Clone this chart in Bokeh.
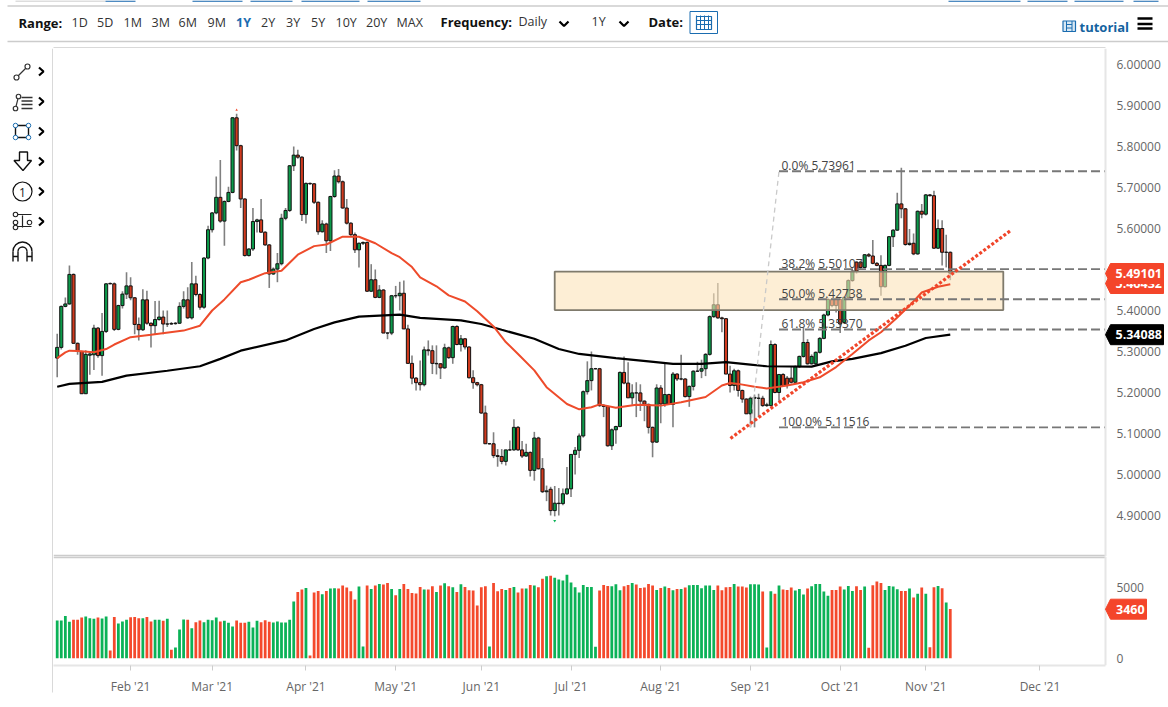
from bokeh.embed import file_html
from bokeh.resources import INLINE
from bokeh.plotting import figure
from bokeh.layouts import column, row
from bokeh.core.properties import value
from bokeh.models import (Range1d, LinearAxis, FixedTicker, NumeralTickFormatter, Label, ColumnDataSource)

# ---------- data (trading-day index 0..219) ----------
opens = [
5.284,5.310,5.410,5.416,5.488,5.320,5.300,5.197,5.291,5.292,
5.357,5.290,5.349,5.465,5.465,5.354,5.412,5.440,5.460,5.431,
5.366,5.353,5.426,5.369,5.363,5.378,5.384,5.367,5.367,5.368,
5.369,5.410,5.426,5.382,5.465,5.439,5.408,5.528,5.597,5.638,
5.676,5.618,5.666,5.688,5.870,5.802,5.672,5.534,5.550,5.617,
5.621,5.591,5.560,5.489,5.501,5.514,5.625,5.644,5.753,5.779,
5.774,5.634,5.710,5.709,5.664,5.592,5.611,5.570,5.678,5.728,
5.714,5.650,5.613,5.585,5.548,5.564,5.566,5.447,5.475,5.432,
5.450,5.345,5.345,5.436,5.436,5.442,5.355,5.271,5.235,5.224,
5.219,5.304,5.302,5.271,5.270,5.260,5.309,5.285,5.361,5.317,
5.331,5.311,5.236,5.224,5.219,5.150,5.075,5.075,5.046,5.044,
5.032,5.060,5.060,5.115,5.060,5.045,5.054,5.010,5.089,5.014,
4.960,4.964,4.912,4.930,4.929,4.953,4.965,5.049,5.059,5.094,
5.202,5.229,5.258,5.258,5.168,5.166,5.070,5.109,5.117,5.249,
5.223,5.187,5.199,5.199,5.179,5.171,5.115,5.079,5.211,5.172,
5.195,5.171,5.245,5.233,5.233,5.190,5.215,5.252,5.252,5.258,
5.293,5.385,5.414,5.382,5.380,5.245,5.217,5.253,5.205,5.184,
5.148,5.186,5.186,5.186,5.168,5.168,5.317,5.200,5.244,5.217,
5.235,5.225,5.263,5.288,5.322,5.288,5.270,5.298,5.332,5.389,
5.427,5.412,5.427,5.371,5.432,5.473,5.496,5.518,5.505,5.536,
5.533,5.515,5.510,5.458,5.510,5.580,5.596,5.660,5.648,5.561,
5.564,5.538,5.642,5.635,5.682,5.680,5.552,5.600,5.542,5.542]
highs = [
5.343,5.412,5.432,5.510,5.490,5.322,5.302,5.303,5.298,5.365,
5.360,5.394,5.467,5.468,5.468,5.414,5.447,5.493,5.481,5.433,
5.383,5.452,5.448,5.371,5.423,5.424,5.400,5.400,5.372,5.372,
5.420,5.447,5.457,5.518,5.485,5.442,5.530,5.607,5.640,5.727,
5.767,5.668,5.702,5.872,5.880,5.804,5.674,5.552,5.650,5.624,
5.672,5.593,5.562,5.505,5.540,5.636,5.650,5.755,5.800,5.792,
5.776,5.712,5.712,5.711,5.666,5.620,5.614,5.680,5.742,5.745,
5.717,5.672,5.615,5.590,5.566,5.568,5.568,5.513,5.500,5.462,
5.452,5.347,5.438,5.460,5.470,5.473,5.365,5.290,5.238,5.278,
5.312,5.327,5.315,5.315,5.272,5.319,5.312,5.363,5.364,5.340,
5.333,5.313,5.254,5.226,5.221,5.168,5.077,5.103,5.062,5.062,
5.060,5.083,5.135,5.118,5.082,5.075,5.056,5.104,5.092,5.040,
4.973,4.970,4.972,4.967,4.966,5.018,5.049,5.067,5.100,5.205,
5.276,5.300,5.260,5.260,5.172,5.168,5.112,5.119,5.251,5.288,
5.274,5.220,5.225,5.220,5.181,5.173,5.117,5.220,5.218,5.270,
5.197,5.250,5.247,5.292,5.235,5.217,5.254,5.275,5.280,5.296,
5.388,5.442,5.467,5.385,5.382,5.265,5.258,5.256,5.207,5.186,
5.190,5.195,5.197,5.192,5.175,5.327,5.320,5.244,5.247,5.240,
5.262,5.266,5.290,5.358,5.330,5.293,5.300,5.335,5.392,5.430,
5.430,5.430,5.432,5.435,5.476,5.498,5.520,5.520,5.538,5.540,
5.572,5.518,5.535,5.512,5.582,5.598,5.687,5.748,5.650,5.599,
5.588,5.644,5.660,5.684,5.684,5.692,5.622,5.620,5.585,5.544]
lows = [
5.237,5.305,5.408,5.414,5.318,5.292,5.197,5.197,5.243,5.255,
5.285,5.241,5.345,5.464,5.350,5.352,5.405,5.428,5.425,5.342,
5.327,5.350,5.365,5.310,5.342,5.375,5.342,5.360,5.365,5.365,
5.367,5.405,5.380,5.378,5.435,5.402,5.404,5.525,5.590,5.635,
5.614,5.558,5.664,5.686,5.790,5.650,5.532,5.532,5.545,5.590,
5.590,5.558,5.455,5.487,5.469,5.510,5.620,5.640,5.740,5.770,
5.618,5.612,5.707,5.660,5.585,5.590,5.540,5.545,5.675,5.710,
5.648,5.610,5.580,5.540,5.505,5.560,5.445,5.445,5.430,5.430,
5.345,5.330,5.340,5.430,5.400,5.355,5.271,5.220,5.205,5.205,
5.215,5.290,5.245,5.244,5.233,5.258,5.282,5.270,5.315,5.300,
5.305,5.234,5.209,5.215,5.148,5.075,5.073,5.040,5.019,5.025,
5.022,5.058,5.058,5.058,5.040,5.043,4.995,4.985,5.012,4.955,
4.935,4.900,4.898,4.900,4.925,4.950,4.945,5.000,5.040,5.090,
5.195,5.205,5.256,5.165,5.140,5.068,5.060,5.075,5.115,5.220,
5.187,5.170,5.140,5.155,5.130,5.100,5.042,5.077,5.125,5.165,
5.170,5.115,5.228,5.230,5.188,5.165,5.205,5.250,5.235,5.240,
5.290,5.382,5.380,5.347,5.245,5.200,5.205,5.190,5.175,5.148,
5.115,5.115,5.140,5.165,5.165,5.166,5.198,5.180,5.215,5.210,
5.222,5.222,5.260,5.285,5.268,5.268,5.265,5.295,5.330,5.386,
5.408,5.395,5.345,5.368,5.430,5.470,5.490,5.500,5.503,5.530,
5.513,5.508,5.436,5.456,5.508,5.555,5.594,5.625,5.558,5.558,
5.535,5.536,5.625,5.632,5.678,5.550,5.550,5.510,5.505,5.474]
closes = [
5.310,5.410,5.416,5.488,5.320,5.300,5.197,5.293,5.294,5.357,
5.290,5.349,5.465,5.466,5.354,5.412,5.440,5.460,5.431,5.366,
5.353,5.426,5.369,5.363,5.378,5.384,5.367,5.367,5.368,5.369,
5.410,5.426,5.382,5.465,5.439,5.408,5.528,5.597,5.638,5.676,
5.618,5.666,5.688,5.870,5.802,5.672,5.534,5.550,5.617,5.621,
5.591,5.560,5.489,5.501,5.514,5.625,5.644,5.753,5.779,5.774,
5.634,5.710,5.709,5.664,5.592,5.611,5.570,5.678,5.728,5.714,
5.650,5.613,5.585,5.548,5.564,5.566,5.447,5.475,5.432,5.450,
5.345,5.345,5.436,5.436,5.442,5.355,5.271,5.235,5.224,5.219,
5.304,5.302,5.271,5.270,5.260,5.309,5.285,5.361,5.317,5.331,
5.311,5.236,5.224,5.219,5.150,5.075,5.075,5.046,5.044,5.032,
5.060,5.060,5.115,5.060,5.045,5.054,5.010,5.089,5.014,4.958,
4.958,4.912,4.930,4.929,4.953,4.965,5.049,5.059,5.094,5.202,
5.229,5.258,5.258,5.168,5.166,5.070,5.109,5.117,5.249,5.223,
5.187,5.199,5.199,5.179,5.171,5.115,5.079,5.211,5.172,5.195,
5.171,5.245,5.233,5.233,5.190,5.215,5.252,5.252,5.258,5.293,
5.385,5.414,5.382,5.380,5.245,5.217,5.253,5.205,5.184,5.148,
5.186,5.188,5.186,5.168,5.170,5.317,5.200,5.244,5.217,5.235,
5.225,5.263,5.288,5.322,5.270,5.270,5.298,5.332,5.389,5.427,
5.412,5.427,5.367,5.432,5.473,5.496,5.518,5.505,5.536,5.533,
5.515,5.510,5.458,5.510,5.580,5.596,5.660,5.648,5.561,5.564,
5.538,5.642,5.635,5.682,5.680,5.552,5.600,5.542,5.542,5.491]
volumes = [
2650,2650,2980,2560,2700,2700,2860,2930,2820,2770,
2860,2790,2930,540,2910,2440,2580,2700,2890,2910,
2820,2820,2910,2580,2700,2700,2630,2770,590,750,
2020,2720,2700,2110,2530,2650,2530,2700,2680,2860,
2580,2630,2490,2230,2650,2490,2490,2560,2160,2630,
2530,2680,2560,2510,2580,2510,2510,2700,3990,4670,
4830,4950,190,4620,4740,4510,4740,4900,4930,4900,
5120,4980,4720,4130,5050,820,5120,4880,5120,5230,
5190,5300,4880,4440,4880,5230,4880,4600,4550,5020,
4830,4830,5070,4670,5120,5280,5070,5000,4670,5210,
5020,4790,4760,3710,5000,5070,820,5300,4720,4880,
4810,4950,5020,4620,4900,4900,5160,5120,5000,5590,
5770,5800,5660,5540,5470,5870,5330,5000,4620,5160,
5020,5020,800,4760,5160,5090,5070,5210,4790,5070,
5160,5300,5190,4950,4980,5230,5120,4810,4950,5050,
4950,4790,4880,4880,4980,5140,5160,5160,4930,5120,
5120,4810,5120,4790,5000,5020,5230,5050,5050,4980,
5210,5210,5190,4690,750,4720,4530,5120,4830,4810,
4980,4760,4880,4480,4900,5070,5230,5230,4690,4390,
4810,4810,5050,4830,5090,4740,5070,4810,5050,730,
5140,5400,5300,4810,5090,5050,4860,4740,4740,4900,
4270,4530,4980,4530,770,5000,5090,4930,3920,3460]
volume_dir = ("GGGGRRRGGG" "RGGRRGGGRR" "RGRRGGRGRG" "GGRGRRGGGG" "RGGGRRRGGG" "RRRGGGGGGR"
              "RGRRRGRGGR" "RRRRGGRGRG" "RRGRGRRRRR" "GRRGRGRGRG" "RRRRRRGRRR" "GRGRRGRGRR"
              "GRGGGGGGGG" "GGGRRRGGGR" "RGRRRRRGRG" "RGRGRGGGGG" "GGRRRRGRRR" "GGGRGGRGRR"
              "RGGGRGGGGG" "RRRGGGRRGR" "RRRGGGGRRG" "RGRGRRGRGR")

ma50_idx = [0,2,3,5,9,12,14,18,23,31,35,38,41,45,47,51,55,59,63,66,70,74,78,82,84,87,89,93,96,100,103,
            107,110,113,117,120,125,128,131,133,137,142,148,153,159,163,165,167,171,174,179,183,187,191,
            195,199,202,206,209,212,216,219]
ma50_val = [5.284,5.298,5.302,5.301,5.298,5.306,5.317,5.335,5.341,5.351,5.363,5.400,5.427,5.469,5.475,
            5.491,5.497,5.536,5.557,5.561,5.580,5.580,5.564,5.540,5.530,5.506,5.481,5.459,5.437,5.422,
            5.398,5.361,5.323,5.294,5.254,5.213,5.172,5.159,5.164,5.171,5.163,5.170,5.168,5.176,5.189,
            5.217,5.223,5.221,5.214,5.210,5.217,5.225,5.237,5.262,5.294,5.327,5.347,5.383,5.412,5.444,
            5.458,5.464]
ma200_idx = [0,3,11,17,27,35,40,45,56,63,68,74,84,89,99,104,109,117,123,128,137,145,151,158,164,170,174,
             185,190,195,202,208,213,219]
ma200_val = [5.214,5.221,5.226,5.241,5.253,5.264,5.282,5.302,5.327,5.355,5.371,5.385,5.390,5.382,5.376,
             5.367,5.353,5.331,5.306,5.294,5.284,5.276,5.270,5.270,5.274,5.268,5.264,5.263,5.276,5.282,
             5.296,5.314,5.333,5.341]

fib_levels = [5.73961, 5.50107, 5.42738, 5.35370, 5.11516]
fib_names = ["0.0%", "38.2%", "50.0%", "61.8%", "100.0%"]
fib_first, fib_last, fib_anchor = 177, 257, 170
zone_left, zone_right, zone_low, zone_high = 122, 232, 5.401, 5.495
trend_idx = [165.1, 233.8]
trend_val = [5.088, 5.595]

price_ticks = [4.9, 5.0, 5.1, 5.2, 5.3, 5.4, 5.5, 5.6, 5.7, 5.8, 5.9, 6.0]
volume_ticks = [0, 5000]
month_ticks = {18: "Feb '21", 38: "Mar '21", 61: "Apr '21", 83: "May '21", 104: "Jun '21", 126: "Jul '21",
               148: "Aug '21", 170: "Sep '21", 192: "Oct '21", 213: "Nov '21", 241: "Dec '21"}
last_close, last_ma50, last_ma200, last_volume = "5.49101", "5.46432", "5.34088", "3460"
range_buttons = ["1D", "5D", "1M", "3M", "6M", "9M", "1Y", "2Y", "3Y", "5Y", "10Y", "20Y", "MAX"]

assert all(len(a) == 220 for a in (opens, highs, lows, closes, volumes, volume_dir))

# ---------- style ----------
FONT = "Open Sans"
GRAY = "#666666"
GREEN, RED = "#0c9a4a", "#d03a1e"
VGREEN, VRED = "#0bb257", "#f4492c"

# page pixel <-> data helpers (only used for annotation placement)
def X(px): return (px - 56.7) / 4.078
def Y(py): return 6 - (py - 64) / 410
def VY(py): return (657.7 - py) * 5000 / 71

def bare(fig):
    fig.xaxis.visible = False
    fig.yaxis.visible = False
    fig.grid.visible = False
    fig.outline_line_color = None
    return fig

def page_fig(x0, x1, y0, y1):
    return bare(figure(width=x1 - x0, height=y1 - y0, x_range=Range1d(x0, x1), y_range=Range1d(y1, y0),
                       toolbar_location=None, output_backend="svg",
                       min_border=0, background_fill_color="white", border_fill_color="white"))

def chevrons(fig, pts, w=2.2):
    fig.multi_line([[x - 2.5, x + 2, x - 2.5] for x, y in pts], [[y - 4, y, y + 4] for x, y in pts],
                   line_color="black", line_width=w)

# ---------- header ----------
H = page_fig(0, 1168, 0, 48)
H.segment([7, 7, 53], [5.5, 41, 47.5], [1168, 1168, 1105], [5.5, 41, 47.5], line_color="#cccccc", line_width=1.5)
H.quad(left=[15], right=[105], top=[0], bottom=[1], fill_color="#bbbbbb", line_color=None)
H.quad(left=[105, 192, 250, 301, 367, 948, 1027, 1074, 1133], right=[135, 242, 292, 359, 420, 1020, 1067, 1123, 1158],
       top=[0] * 9, bottom=[1.2] * 9, fill_color="#1565ad", line_color=None)
def htext(fig, x, y, t, color="#222222", bold=False, size="12.5px", align="left"):
    fig.text([x], [y], [t], text_font=value(FONT), text_font_size=size, text_color=color,
             text_font_style="bold" if bold else "normal", text_align=align, text_baseline="middle")
htext(H, 18, 22, "Range:", "#111111", True, "13px")
for x, t in zip([71, 96.5, 123, 151, 178, 207, 235.5, 260.5, 285.5, 310.5, 335, 365.5, 396], range_buttons):
    htext(H, x, 22, t, "#1a6cb0" if t == "1Y" else "#333333", t == "1Y")
htext(H, 440, 21, "Frequency:", "#111111", True, "13px")
htext(H, 518, 21, "Daily", "#333333")
htext(H, 591, 21, "1Y", "#333333")
htext(H, 648, 21, "Date:", "#111111", True, "13px")
H.multi_line([[559, 563.5, 568], [619, 623.5, 628]], [[21, 25.5, 21], [21, 25.5, 21]], line_color="black", line_width=2.2)
# calendar button
H.quad(left=[689.5], right=[717], top=[11], bottom=[33], fill_color="white", line_color="#1a6cb0", line_width=1)
H.quad(left=[696], right=[711], top=[16], bottom=[29], fill_color="white", line_color="#1a6cb0", line_width=1.2)
H.segment([696, 700, 704, 708, 696, 696], [15, 15, 15, 15, 20, 24], [696, 700, 704, 708, 711, 711], [29, 29, 29, 29, 20, 24],
          line_color="#1a6cb0", line_width=1)
# tutorial
htext(H, 1079, 26, "tutorial", "#14639f", True, "13px")
H.quad(left=[1062.5], right=[1075], top=[20.5], bottom=[31], fill_color="#d8e8f4", line_color="#1a6cb0", line_width=1.2)
H.segment([1066, 1071.5, 1066, 1066], [20.5, 20.5, 24, 27.5], [1066, 1071.5, 1071.5, 1071.5], [31, 31, 24, 27.5],
          line_color="#1a6cb0", line_width=1)
H.segment([1137, 1137, 1137], [18, 23.5, 28], [1152, 1152, 1152], [18, 23.5, 28], line_color="black", line_width=2.6)

# ---------- left toolbar ----------
L = page_fig(0, 53, 48, 707)
L.segment([52.5], [48], [52.5], [692], line_color="#cccccc", line_width=1.5)
ic = dict(line_color="#333333", line_width=1.2)
# trend tool
L.line([16, 27], [77, 66], **ic)
L.scatter([16, 27], [77, 66], size=5, fill_color="white", marker="circle", **ic)
# fib tool
L.line([15, 18], [108, 96], **ic)
L.scatter([15, 18], [108, 96], size=4.5, fill_color="white", marker="circle", **ic)
L.segment([21] * 4, [97, 100.5, 104, 108], [32] * 4, [97, 100.5, 104, 108], line_color="#333333", line_width=1.4)
# rectangle tool
L.quad(left=[15], right=[28], top=[125], bottom=[137], fill_color=None, line_color="#111111", line_width=1.4)
L.scatter([15, 28, 15, 28], [125, 125, 137, 137], size=4.5, fill_color="white", marker="circle", line_color="#1a6cb0", line_width=1)
# arrow tool
L.patch([19, 27, 27, 31, 22.5, 13.5, 19], [151.5, 151.5, 160, 160, 170, 160, 160], fill_color="white", line_color="#111111", line_width=1.4)
# number tool
L.circle([22], [191], radius=9.5, fill_color="white", line_color="#111111", line_width=1.2)
htext(L, 22, 191.5, "1", "#222222", False, "12px", "center")
# measure tool
L.segment([16, 16, 22], [214, 226, 215], [31, 31, 22], [214, 226, 227], line_color="#222222", line_width=1.2)
L.scatter([15, 15, 29, 15], [214, 222, 222, 227], size=4.5, fill_color="white", marker="circle", line_color="#222222", line_width=1.1)
# magnet
L.arc([22], [251], radius=9.5, start_angle=0, end_angle=3.14159, direction="anticlock", line_color="#111111", line_width=1.4)
L.arc([22], [251], radius=4.5, start_angle=0, end_angle=3.14159, direction="anticlock", line_color="#111111", line_width=1.4)
L.segment([12.5, 17.5, 26.5, 31.5, 12.5, 26.5], [251, 251, 251, 251, 256, 256], [12.5, 17.5, 26.5, 31.5, 17.5, 31.5], [261, 261, 261, 261, 256, 256],
          line_color="#111111", line_width=1.4)
chevrons(L, [(41, 71), (41, 101), (41, 131), (41, 161), (41, 191), (41, 221)])

# ---------- price panel ----------
idx = list(range(220))
P = figure(width=1115, height=508, x_range=Range1d(X(53), X(1168)), y_range=Range1d(Y(556), Y(48)),
           toolbar_location=None, output_backend="svg", min_border=0, x_axis_location=None, y_axis_location=None,
           background_fill_color="white", border_fill_color="white")
P.grid.visible = False
P.outline_line_color = None

body_bottom = [min(o, c) for o, c in zip(opens, closes)]
body_top = [max(o, c) for o, c in zip(opens, closes)]
body_color = [GREEN if d == "G" else RED for d in volume_dir]
src = ColumnDataSource(dict(x=idx, h=highs, l=lows, t=body_top, b=body_bottom, c=body_color))
P.segment("x", "h", "x", "l", source=src, line_color="#808080", line_width=1.6)
P.vbar(x="x", top="t", bottom="b", width=0.76, source=src, fill_color="c", line_color="#111111", line_width=1)

P.scatter([44], [5.889], marker="triangle", size=2.5, fill_color=VRED, line_color=None)
P.scatter([122], [4.887], marker="inverted_triangle", size=3, fill_color=VGREEN, line_color=None)

# supply zone on top of candles
P.quad(left=[zone_left], right=[zone_right], top=[zone_high], bottom=[zone_low],
       fill_color="#fce3b9", fill_alpha=0.6, line_color="#7f7a6c", line_width=1.8)

P.line(ma200_idx, ma200_val, line_color="black", line_width=2.2)
P.line(ma50_idx, ma50_val, line_color="#ee4b2b", line_width=2)

# fibonacci
for lev in fib_levels:
    P.line([fib_first, fib_last], [lev, lev], line_color="#777777", line_width=1.8, line_dash="9 4")
P.line([fib_anchor, fib_first], [fib_levels[-1], fib_levels[0]], line_color="#c9c9c9", line_width=1.3, line_dash="5 4")
for name, lev in zip(fib_names, fib_levels):
    P.add_layout(Label(x=X(781), y=lev + 0.014, text=f"{name} {lev:.5f}", text_font=FONT, text_font_size="12px",
                       text_color="#444444", text_baseline="middle", text_align="left"))

# trend line
P.line(trend_idx, trend_val, line_color="#f0452a", line_width=3.2, line_dash="3 2")

P.segment([X(53)], [Y(555.5)], [X(1105)], [Y(555.5)], line_color="#cccccc", line_width=2.5)

pa = LinearAxis(ticker=FixedTicker(ticks=price_ticks), formatter=NumeralTickFormatter(format="0.00000"),
                major_tick_line_color=None, minor_tick_line_color=None, axis_line_color="#e6e6e6", axis_line_width=2,
                major_label_text_font=FONT, major_label_text_font_size="12px", major_label_text_color=GRAY,
                major_label_standoff=5, fixed_location=X(1105))
P.add_layout(pa, "right")

def flag(fig, yfun, cy, x1, fill, text, text_x, halfh=10):
    x0 = 1105
    xs = [x0, x0 + 5, x1, x1, x0 + 5]
    ys = [cy, cy - halfh, cy - halfh, cy + halfh, cy + halfh]
    fig.patch([X(v) for v in xs], [yfun(v) for v in ys], fill_color=fill, line_color=fill, level="overlay")
    fig.text([X(text_x)], [yfun(cy)], [text], text_font=value(FONT), text_font_size="12.5px",
             text_font_style="bold", text_color="white", text_baseline="middle", level="overlay")

flag(P, Y, 283, 1163, "#f4452a", last_ma50, 1115)
flag(P, Y, 273, 1163, "#f4452a", last_close, 1115)
flag(P, Y, 334.2, 1163, "#000000", last_ma200, 1115)

# ---------- volume panel ----------
V = figure(width=1115, height=151, x_range=Range1d(X(53), X(1168)), y_range=Range1d(VY(665), VY(556)),
           toolbar_location=None, output_backend="svg", min_border_left=0, min_border_right=0,
           min_border_top=0, min_border_bottom=42, x_axis_location=None, y_axis_location=None,
           background_fill_color="white", border_fill_color="white")
V.grid.visible = False
V.outline_line_color = None
V.vbar(x=idx, top=volumes, bottom=0, width=0.68, fill_color=[VGREEN if d == "G" else VRED for d in volume_dir], line_color=None)
V.segment([X(53)], [VY(556.5)], [X(1105)], [VY(556.5)], line_color="#cccccc", line_width=2.5)

va = LinearAxis(ticker=FixedTicker(ticks=volume_ticks), formatter=NumeralTickFormatter(format="0"),
                major_tick_line_color=None, minor_tick_line_color=None, axis_line_color="#e6e6e6", axis_line_width=2,
                major_label_text_font=FONT, major_label_text_font_size="12px", major_label_text_color=GRAY,
                major_label_standoff=5, fixed_location=X(1105))
V.add_layout(va, "right")
xa = LinearAxis(ticker=FixedTicker(ticks=list(month_ticks)), major_label_overrides=month_ticks,
                major_tick_in=0, major_tick_out=5, major_tick_line_color="#cccccc", minor_tick_line_color=None,
                axis_line_color="#e6e6e6", axis_line_width=2, major_label_text_font=FONT, major_label_text_font_size="12px",
                major_label_text_color=GRAY, major_label_standoff=7, bounds=(X(53), X(1105)))
V.add_layout(xa, "below")
flag(V, VY, 608.7, 1146, "#f4452a", last_volume, 1115.5)

page = column(H, row(L, column(P, V, spacing=0), spacing=0), spacing=0)
open("out.html", "w").write(file_html(page, INLINE))
